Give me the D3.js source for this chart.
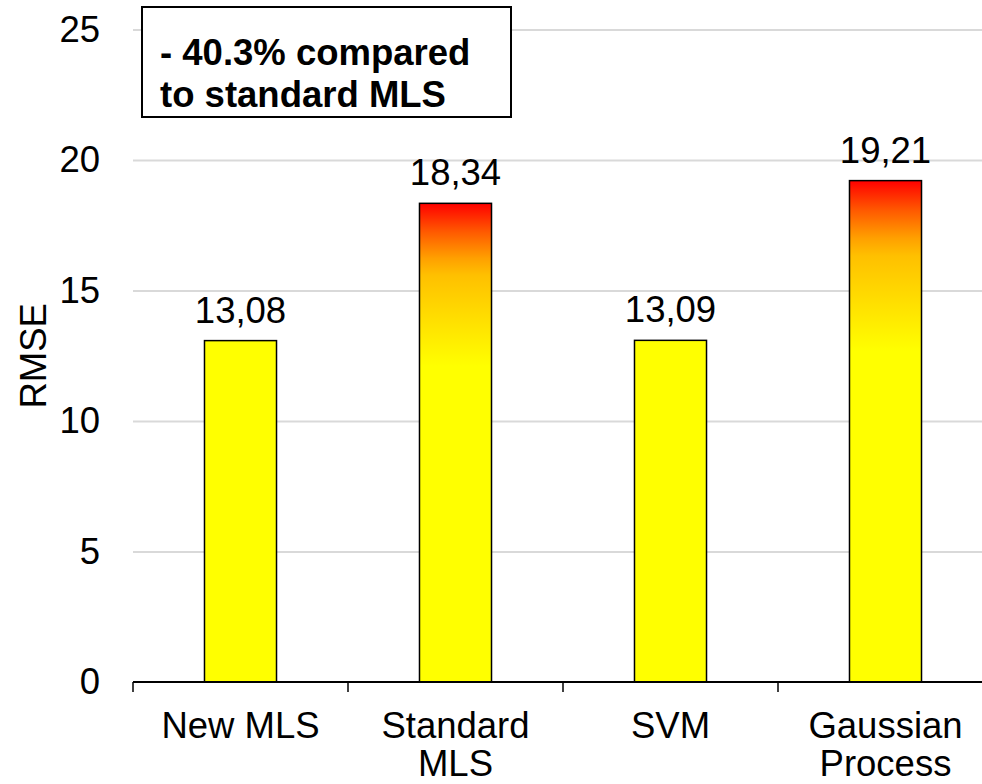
<!DOCTYPE html>
<html>
<head>
<meta charset="utf-8">
<script src="https://cdn.jsdelivr.net/npm/d3@7/dist/d3.min.js"></script>
<style>
  html, body { margin: 0; padding: 0; background: #fff; }
  svg { display: block; font-family: "Liberation Sans", Arial, sans-serif; }
</style>
</head>
<body>
<svg id="chart" width="982" height="784"></svg>
<script>
// RMSE per method
const categories = ["New MLS", "Standard MLS", "SVM", "Gaussian Process"];
const labelLines = [["New MLS"], ["Standard", "MLS"], ["SVM"], ["Gaussian", "Process"]];
const rmse = [13.08, 18.34, 13.09, 19.21];
const gradientBars = ["Standard MLS", "Gaussian Process"];
const yTicks = [0, 5, 10, 15, 20, 25];
const note = ["- 40.3% compared", "to standard MLS"];

const svg = d3.select("#chart");
const plotLeft = 133, plotRight = 993, plotTop = 29.5, plotBottom = 682;
const fontSize = 36.5;

const x = d3.scaleBand().domain(categories).range([plotLeft, plotRight])
  .paddingInner(0.665).paddingOuter(0.3325);
const slot = d3.scaleBand().domain(categories).range([plotLeft, plotRight]).padding(0);
const y = d3.scaleLinear().domain([0, 25]).range([plotBottom, plotTop]);

// red-to-yellow fill used on the higher-error bars
const defs = svg.append("defs");
const grad = defs.append("linearGradient").attr("id", "heat")
  .attr("x1", 0).attr("y1", 0).attr("x2", 0).attr("y2", 1);
[[0, "#ff0000"], [0.06, "#ff5a00"], [0.115, "#ffa000"], [0.15, "#ffc000"],
 [0.34, "#ffff00"], [1, "#ffff00"]].forEach(([o, c]) =>
  grad.append("stop").attr("offset", o).attr("stop-color", c));

// horizontal gridlines
svg.append("g")
  .attr("transform", `translate(${plotLeft},0)`)
  .call(d3.axisLeft(y).tickValues(yTicks.filter(v => v > 0)).tickSize(-(plotRight - plotLeft)).tickFormat(""))
  .call(g => g.select(".domain").remove())
  .call(g => g.selectAll("line").attr("stroke", "#d9d9d9").attr("stroke-width", 2));

// y tick labels
svg.append("g")
  .attr("transform", `translate(${plotLeft},0)`)
  .call(d3.axisLeft(y).tickValues(yTicks).tickSize(0).tickPadding(33).tickFormat(d3.format("d")))
  .call(g => g.select(".domain").remove())
  .call(g => g.selectAll("text").attr("font-size", fontSize).attr("fill", "#000")
    .attr("font-family", "Liberation Sans, Arial, sans-serif"));

// y axis title
svg.append("text")
  .attr("transform", `translate(46,${(plotTop + plotBottom) / 2}) rotate(-90)`)
  .attr("text-anchor", "middle")
  .attr("font-size", fontSize)
  .text("RMSE");

// bars
svg.append("g").selectAll("rect")
  .data(categories.map((c, i) => ({ c, v: rmse[i] })))
  .join("rect")
  .attr("x", d => x(d.c))
  .attr("width", x.bandwidth())
  .attr("y", d => y(d.v))
  .attr("height", d => y(0) - y(d.v))
  .attr("fill", d => gradientBars.includes(d.c) ? "url(#heat)" : "#ffff00")
  .attr("stroke", "#000")
  .attr("stroke-width", 1.5);

// value labels
svg.append("g").selectAll("text")
  .data(categories.map((c, i) => ({ c, v: rmse[i] })))
  .join("text")
  .attr("x", d => x(d.c) + x.bandwidth() / 2)
  .attr("y", d => y(d.v) - 18)
  .attr("text-anchor", "middle")
  .attr("font-size", fontSize)
  .text(d => d3.format(".2f")(d.v).replace(".", ","));

// x axis line with category boundary ticks
const xAxis = svg.append("g");
xAxis.append("line")
  .attr("x1", plotLeft).attr("x2", plotRight).attr("y1", plotBottom).attr("y2", plotBottom)
  .attr("stroke", "#000").attr("stroke-width", 2);
xAxis.selectAll("line.tick")
  .data(categories.map(c => slot(c)).concat([plotRight]))
  .join("line").attr("class", "tick")
  .attr("x1", d => d).attr("x2", d => d)
  .attr("y1", plotBottom).attr("y2", plotBottom + 10)
  .attr("stroke", "#000").attr("stroke-width", 1.5);

// category labels (two-line where the name is long)
const cat = xAxis.selectAll("text.cat")
  .data(categories.map((c, i) => ({ c, lines: labelLines[i] })))
  .join("text").attr("class", "cat")
  .attr("text-anchor", "middle")
  .attr("font-size", fontSize);
cat.selectAll("tspan")
  .data(d => d.lines.map((l, j) => ({ l, j, c: d.c })))
  .join("tspan")
  .attr("x", d => slot(d.c) + slot.bandwidth() / 2)
  .attr("y", d => 738 + d.j * 38)
  .text(d => d.l);

// annotation box
const box = svg.append("g");
box.append("rect")
  .attr("x", 142).attr("y", 7).attr("width", 369).attr("height", 110)
  .attr("fill", "#fff").attr("stroke", "#000").attr("stroke-width", 2);
box.selectAll("text")
  .data(note)
  .join("text")
  .attr("x", 160)
  .attr("y", (d, i) => 65 + i * 42)
  .attr("font-size", fontSize)
  .attr("font-weight", "bold")
  .text(d => d);
</script>
</body>
</html>
